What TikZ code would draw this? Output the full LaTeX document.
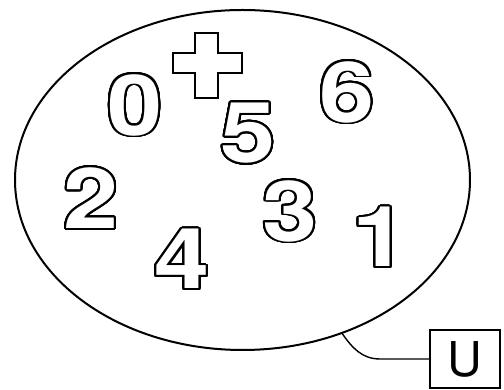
\documentclass[tikz,border=0pt]{standalone}
\usepackage{fontspec}
\setmainfont{TeX Gyre Heros}
\usepackage{contour}
\contourlength{1.9pt}
\contournumber{32}
\usepackage{tikz}
\usetikzlibrary{shapes.geometric}

\begin{document}
\begin{tikzpicture}[x=1pt,y=1pt,
  ring/.style={ellipse,draw,line width=2pt,minimum width=455pt,minimum height=340pt,inner sep=0pt},
  digit/.style={inner sep=0pt,text=white,font=\fontsize{84}{84}\selectfont\bfseries},
  tag/.style={draw,line width=1.6pt,minimum width=70pt,minimum height=58pt,inner sep=0pt,
    font=\fontsize{48}{48}\selectfont}]
  \useasboundingbox (0,0) rectangle (504,390);
  % the set and its members
  \node[ring] (set) at (242.5,210) {};
  \foreach \d/\x/\y in {0/135/284,6/347/297,5/248/256,2/91/191,3/290/178,1/380/152,4/182/130}
    \node[digit] (n\d) at (\x,\y) {\scalebox{1.18}[1]{\contour{black}{\d}}};
  % the plus sign
  \draw[line width=2pt,fill=white] (195,357) -- (218,357) -- (218,337) -- (242,337) -- (242,317)
    -- (218,317) -- (218,292) -- (195,292) -- (195,317) -- (173,317) -- (173,337) -- (195,337) -- cycle;
  % label of the set
  \node[tag] (u) at (465,31) {U};
  \coordinate (bend) at (380,31);
  \draw[line width=1.4pt] (set.-57) to[out=-55,in=180] (bend) -- (u);
\end{tikzpicture}
\end{document}
